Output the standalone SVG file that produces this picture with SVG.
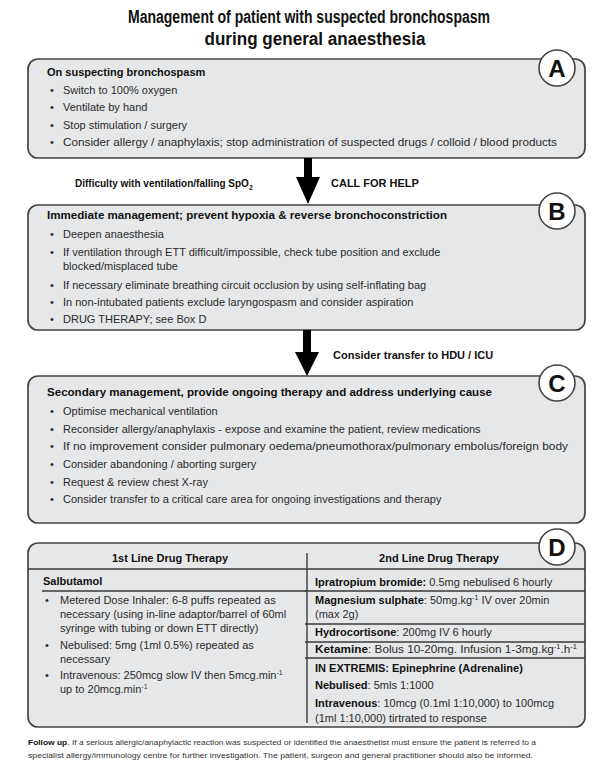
<svg xmlns="http://www.w3.org/2000/svg" width="609" height="776" viewBox="0 0 609 776">
<style>
text{font-family:"Liberation Sans",Arial,sans-serif;fill:#2b2b2b;}
.title{font-size:18px;font-weight:bold;fill:#111;}
.box{fill:#e6e7e8;stroke:#444;stroke-width:1.7;}
.h{font-size:11px;font-weight:bold;fill:#111;}
.t{font-size:11px;}
.b{font-weight:bold;fill:#111;}
.lbl{font-size:11px;font-weight:bold;fill:#111;}
.circ{fill:#fff;stroke:#444;stroke-width:1.6;}
.letter{font-size:24px;font-weight:bold;fill:#111;text-anchor:middle;}
.rule{stroke:#3a3a3a;stroke-width:1.4;fill:none;}
.arrow{fill:#000;}
.foot{font-size:7.3px;fill:#333;}
.sup{font-size:7px;}
</style>
<rect width="609" height="776" fill="#fff"/>

<g id="title">
<text class="title" x="309" y="23" text-anchor="middle" textLength="362" lengthAdjust="spacingAndGlyphs">Management of patient with suspected bronchospasm</text>
<text class="title" x="315" y="45" text-anchor="middle" textLength="221" lengthAdjust="spacingAndGlyphs">during general anaesthesia</text>
</g>

<g id="boxA">
<rect class="box" x="28" y="59" width="557" height="99" rx="10"/>
<circle class="circ" cx="557" cy="68" r="18"/>
<text class="letter" x="557" y="77">A</text>
<text class="h" x="47" y="76">On suspecting bronchospasm</text>
<text class="t" x="50" y="94">•</text><text class="t" x="63" y="94">Switch to 100% oxygen</text>
<text class="t" x="50" y="111">•</text><text class="t" x="63" y="111">Ventilate by hand</text>
<text class="t" x="50" y="129">•</text><text class="t" x="63" y="129">Stop stimulation / surgery</text>
<text class="t" x="50" y="146">•</text><text class="t" x="63" y="146" textLength="494" lengthAdjust="spacingAndGlyphs">Consider allergy / anaphylaxis; stop administration of suspected drugs / colloid / blood products</text>
</g>

<g id="boxB">
<rect class="box" x="28" y="205" width="557" height="125" rx="10"/>
<circle class="circ" cx="557" cy="211" r="18"/>
<text class="letter" x="557" y="220">B</text>
<text class="h" x="47" y="219" textLength="400" lengthAdjust="spacingAndGlyphs">Immediate management; prevent hypoxia &amp; reverse bronchoconstriction</text>
<text class="t" x="50" y="238">•</text><text class="t" x="63" y="238">Deepen anaesthesia</text>
<text class="t" x="50" y="256">•</text><text class="t" x="63" y="256">If ventilation through ETT difficult/impossible, check tube position and exclude</text>
<text class="t" x="63" y="270">blocked/misplaced tube</text>
<text class="t" x="50" y="289">•</text><text class="t" x="63" y="289">If necessary eliminate breathing circuit occlusion by using self-inflating bag</text>
<text class="t" x="50" y="306">•</text><text class="t" x="63" y="306">In non-intubated patients exclude laryngospasm and consider aspiration</text>
<text class="t" x="50" y="323">•</text><text class="t" x="63" y="323">DRUG THERAPY; see Box D</text>
</g>

<g id="boxC">
<rect class="box" x="28" y="376" width="557" height="147" rx="10"/>
<circle class="circ" cx="557" cy="383" r="18"/>
<text class="letter" x="557" y="392">C</text>
<text class="h" x="47" y="396" textLength="445" lengthAdjust="spacingAndGlyphs">Secondary management, provide ongoing therapy and address underlying cause</text>
<text class="t" x="50" y="415">•</text><text class="t" x="63" y="415">Optimise mechanical ventilation</text>
<text class="t" x="50" y="433">•</text><text class="t" x="63" y="433">Reconsider allergy/anaphylaxis - expose and examine the patient, review medications</text>
<text class="t" x="50" y="450">•</text><text class="t" x="63" y="450" textLength="505" lengthAdjust="spacingAndGlyphs">If no improvement consider pulmonary oedema/pneumothorax/pulmonary embolus/foreign body</text>
<text class="t" x="50" y="468">•</text><text class="t" x="63" y="468">Consider abandoning / aborting surgery</text>
<text class="t" x="50" y="486">•</text><text class="t" x="63" y="486">Request &amp; review chest X-ray</text>
<text class="t" x="50" y="503">•</text><text class="t" x="63" y="503">Consider transfer to a critical care area for ongoing investigations and therapy</text>
</g>

<g id="boxD">
<rect class="box" x="28" y="543" width="557" height="184" rx="10"/>
<line class="rule" x1="307" y1="553" x2="307" y2="723"/>
<line class="rule" x1="28" y1="569" x2="585" y2="569"/>
<line class="rule" x1="42" y1="591" x2="307" y2="591"/>
<line class="rule" x1="305" y1="591" x2="585" y2="591"/>
<line class="rule" x1="305" y1="624" x2="585" y2="624"/>
<line class="rule" x1="305" y1="642" x2="585" y2="642"/>
<line class="rule" x1="305" y1="658" x2="585" y2="658"/>
<circle class="circ" cx="557" cy="547" r="18"/>
<text class="letter" x="557" y="556">D</text>
<text class="h" x="170" y="562" text-anchor="middle">1st Line Drug Therapy</text>
<text class="h" x="439" y="562" text-anchor="middle">2nd Line Drug Therapy</text>
<text class="h" x="43" y="585">Salbutamol</text>
<text class="t" x="45" y="604">•</text><text class="t" x="60" y="604">Metered Dose Inhaler: 6-8 puffs repeated as</text>
<text class="t" x="60" y="618">necessary (using in-line adaptor/barrel of 60ml</text>
<text class="t" x="60" y="632">syringe with tubing or down ETT directly)</text>
<text class="t" x="45" y="649">•</text><text class="t" x="60" y="649">Nebulised: 5mg (1ml 0.5%) repeated as</text>
<text class="t" x="60" y="663">necessary</text>
<text class="t" x="45" y="679">•</text><text class="t" x="60" y="679">Intravenous: 250mcg slow IV then 5mcg.min<tspan class="sup" dy="-4">-1</tspan></text>
<text class="t" x="60" y="693">up to 20mcg.min<tspan class="sup" dy="-4">-1</tspan></text>
<text class="t" x="315" y="586"><tspan class="b">Ipratropium bromide:</tspan> 0.5mg nebulised 6 hourly</text>
<text class="t" x="315" y="604"><tspan class="b">Magnesium sulphate</tspan>: 50mg.kg<tspan class="sup" dy="-4">-1</tspan><tspan dy="4"> IV over 20min</tspan></text>
<text class="t" x="315" y="618">(max 2g)</text>
<text class="t" x="315" y="636"><tspan class="b">Hydrocortisone</tspan>: 200mg IV 6 hourly</text>
<text class="t" x="315" y="653" textLength="262" lengthAdjust="spacingAndGlyphs"><tspan class="b">Ketamine</tspan>: Bolus 10-20mg. Infusion 1-3mg.kg<tspan class="sup" dy="-4">-1</tspan><tspan dy="4">.h</tspan><tspan class="sup" dy="-4">-1</tspan></text>
<text class="h" x="315" y="672">IN EXTREMIS: Epinephrine (Adrenaline)</text>
<text class="t" x="315" y="689"><tspan class="b">Nebulised</tspan>: 5mls 1:1000</text>
<text class="t" x="315" y="707"><tspan class="b">Intravenous</tspan>: 10mcg (0.1ml 1:10,000) to 100mcg</text>
<text class="t" x="315" y="722">(1ml 1:10,000) tirtrated to response</text>
</g>

<g id="connectors">
<polygon class="arrow" points="304,158 312,158 312,177 320,177 308,204 296,177 304,177"/>
<polygon class="arrow" points="303,330 311,330 311,352 319,352 307,376 295,352 303,352"/>
</g>

<g id="arrow-labels">
<text class="lbl" x="75" y="187" style="font-size:10px">Difficulty with ventilation/falling SpO<tspan style="font-size:7px" dy="3">2</tspan></text>
<text class="lbl" x="331" y="187">CALL FOR HELP</text>
<text class="lbl" x="333" y="359">Consider transfer to HDU / ICU</text>
</g>

<g id="footer">
<text class="foot" x="28" y="745" textLength="508" lengthAdjust="spacingAndGlyphs"><tspan class="b">Follow up</tspan>. If a serious allergic/anaphylactic reaction was suspected or identified the anaesthetist must ensure the patient is referred to a</text>
<text class="foot" x="28" y="758" textLength="505" lengthAdjust="spacingAndGlyphs">specialist allergy/immunology centre for further investigation. The patient, surgeon and general practitioner should also be informed.</text>
</g>
</svg>
